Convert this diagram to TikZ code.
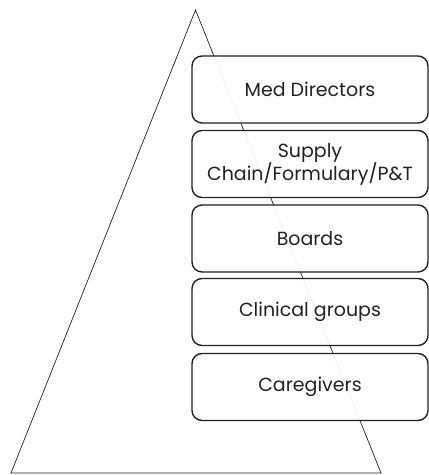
\documentclass[tikz,border=0pt]{standalone}
\usepackage{fontspec}
\setmainfont{Poppins}
\definecolor{edge}{RGB}{34,34,34}
\tikzset{tier/.style={draw=edge, line width=1.4pt, rounded corners=10pt, fill=white, fill opacity=0.93, text opacity=1,
        minimum width=236pt, minimum height=67pt, align=center, inner sep=1pt, text=edge,
        font=\fontsize{19}{23}\selectfont}}

\begin{document}
\begin{tikzpicture}[x=1pt,y=-1pt]
        \useasboundingbox (0,0) rectangle (429,475);
        % pyramid
        \coordinate (apex) at (195.5,10);
        \coordinate (baseR) at (381,473);
        \coordinate (baseL) at (11,473);
        \draw[edge, line width=0.7pt] (apex) -- (baseR) -- (baseL) -- cycle;

        % tiers
        \node[tier] (meddir) at (310,89.5) {Med Directors};
        \node[tier] (supply) at (310,164) {Supply\\Chain/Formulary/P\&T};
        \node[tier] (boards) at (310,238.5) {Boards};
        \node[tier] (clinical) at (310,312) {Clinical groups};
        \node[tier] (caregivers) at (310,387) {Caregivers};
\end{tikzpicture}
\end{document}
